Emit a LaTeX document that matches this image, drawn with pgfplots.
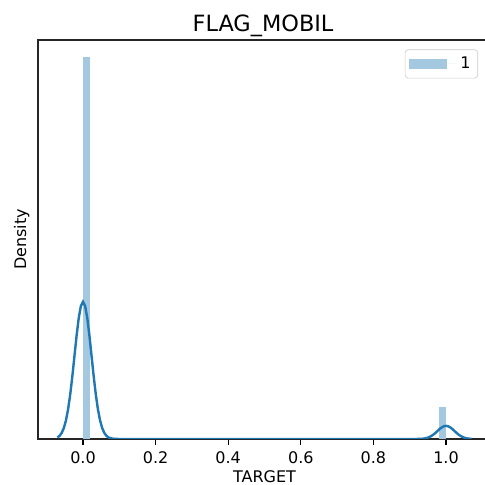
\documentclass[border=0pt]{standalone}
\usepackage{fontspec}
\setmainfont{DejaVu Sans}
\usepackage{pgfplots}
\pgfplotsset{compat=1.18}
\definecolor{kdeblue}{HTML}{1F77B4}
\definecolor{barblue}{HTML}{A5C8E1}
\begin{document}
\begin{tikzpicture}
\begin{axis}[
  at={(23.75pt,28.75pt)}, anchor=south west,
  width=283.1pt, height=249.4pt, scale only axis,
  xmin=-0.124, xmax=1.124, ymin=0, ymax=48.6,
  xtick={0,0.2,0.4,0.6,0.8,1.0},
  xticklabels={0.0,0.2,0.4,0.6,0.8,1.0},
  ytick=\empty,
  xtick pos=left,
  tick align=outside, major tick length=3.5pt,
  tick style={black, line width=0.8pt},
  axis line style={black!85, line width=0.8pt},
  xticklabel style={font=\fontsize{10}{12}\selectfont, yshift=-1pt},
  legend style={at={(rel axis cs:1,1)}, anchor=north east,
    xshift=-8.1pt, yshift=-5.9pt, draw=black!20, rounded corners=2pt,
    font=\fontsize{10}{12}\selectfont, inner xsep=2.5pt, inner ysep=2.5pt},
]
% histogram bars (density)
\addplot[ybar interval, fill=barblue, draw=none,
  legend image code/.code={
    \fill[barblue, sharp corners] (0pt,-3.1pt) rectangle (23.75pt,3.1pt);
    \path (0pt,0pt) -- (30pt,0pt);}]
  coordinates {(0,46.5) (0.02,46.5)};
\addlegendentry{1}
\addplot[ybar interval, fill=barblue, draw=none, forget plot]
  coordinates {(0.98,3.9) (1.0,3.9)};
% kde
\addplot[kdeblue, line width=1.5pt, forget plot] coordinates {
  (-0.0705,0.185) (-0.064625,0.381) (-0.05875,0.733) (-0.052875,1.33)
  (-0.047,2.26) (-0.041125,3.61) (-0.03525,5.42) (-0.029375,7.65)
  (-0.0235,10.13) (-0.017625,12.61) (-0.01175,14.74) (-0.005875,16.19)
  (0,16.70)
  (0.005875,16.19) (0.01175,14.74) (0.017625,12.61) (0.0235,10.13)
  (0.029375,7.65) (0.03525,5.42) (0.041125,3.61) (0.047,2.26)
  (0.052875,1.33) (0.05875,0.733) (0.064625,0.381) (0.0705,0.185)
  (0.08,0.052) (0.09,0.011) (0.1,0.002) (0.3,0) (0.5,0) (0.7,0)
  (0.9,0.001) (0.92,0.005)
  (0.9295,0.018) (0.935375,0.036) (0.94125,0.070) (0.947125,0.127)
  (0.953,0.216) (0.958875,0.346) (0.96475,0.520) (0.970625,0.732)
  (0.9765,0.970) (0.982375,1.208) (0.98825,1.412) (0.994125,1.551)
  (1.0,1.600)
  (1.005875,1.551) (1.01175,1.412) (1.017625,1.208) (1.0235,0.970)
  (1.029375,0.732) (1.03525,0.520) (1.041125,0.346) (1.047,0.216)
  (1.052875,0.127) (1.05875,0.070) (1.064625,0.036) (1.0705,0.018)
};
\end{axis}
\node[anchor=base, font=\fontsize{10}{12}\selectfont]
  at (165.3pt,1.6pt) {TARGET};
\node[anchor=base, rotate=90, font=\fontsize{10}{12}\selectfont]
  at (16.25pt,153.45pt) {Density};
\node[anchor=base, font=\fontsize{14}{16}\selectfont]
  at (164.4pt,283.3pt) {FLAG\_MOBIL};
\pgfresetboundingbox
\useasboundingbox (0pt,0pt) rectangle (302.5pt,303.1pt);
\end{tikzpicture}
\end{document}
